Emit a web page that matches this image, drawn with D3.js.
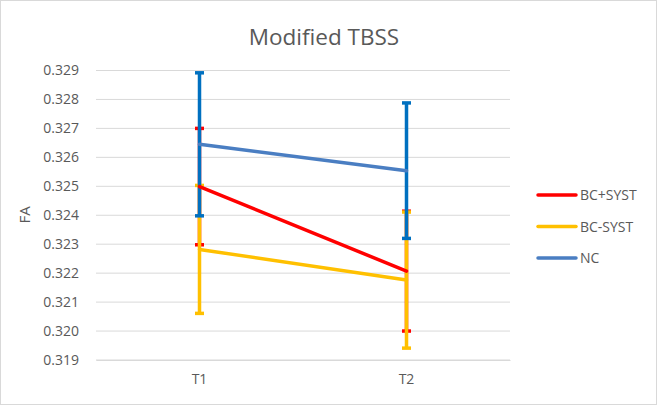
<!DOCTYPE html>
<html><head><meta charset="utf-8">
<script src="https://cdn.jsdelivr.net/npm/d3@7"></script>
<style>body{margin:0;background:#fff}svg{display:block}</style>
</head><body>
<svg id="c" width="657" height="405"></svg>
<script>
const categories = ["T1", "T2"];
const seriesNames = ["BC+SYST", "BC-SYST", "NC"];
const bcPlus = [0.32499, 0.32207];
const bcPlusErr = [0.00201, 0.00207];
const bcMinus = [0.32282, 0.32176];
const bcMinusErr = [0.00221, 0.00235];
const nc = [0.32645, 0.32554];
const ncErr = [0.00247, 0.00234];
const yTicks = [0.319, 0.320, 0.321, 0.322, 0.323, 0.324, 0.325, 0.326, 0.327, 0.328, 0.329];
const colors = ["#FF0000", "#FFC000", "#4A7EC2"];
const errColors = ["#FF0000", "#FFC000", "#0070C0"];

const series = [
  {name: seriesNames[0], vals: bcPlus, err: bcPlusErr},
  {name: seriesNames[1], vals: bcMinus, err: bcMinusErr},
  {name: seriesNames[2], vals: nc, err: ncErr}
];

const svg = d3.select("#c");
const font = "Open Sans, Liberation Sans, sans-serif";
svg.append("rect").attr("x",0.5).attr("y",0.5).attr("width",656).attr("height",404)
  .attr("fill","#fff").attr("stroke","#d9d9d9");

const x = d3.scaleBand().domain(categories).range([96, 510]);
const y = d3.scaleLinear().domain([0.319, 0.329]).range([360, 70.5]);

svg.append("g").selectAll("line").data(yTicks).join("line")
  .attr("x1",96).attr("x2",510).attr("y1",d=>y(d)).attr("y2",d=>y(d))
  .attr("stroke","#d9d9d9").attr("stroke-width",1);

const ya = svg.append("g").attr("transform","translate(96,0)")
  .call(d3.axisLeft(y).tickValues(yTicks).tickFormat(d3.format(".3f")).tickSize(0).tickPadding(17));
ya.select(".domain").remove();
ya.selectAll("text").attr("font-family",font).attr("font-size",14).attr("fill","#595959");

const xa = svg.append("g").attr("transform","translate(0,360)")
  .call(d3.axisBottom(x).tickSize(0).tickPadding(14));
xa.select(".domain").attr("stroke","#d9d9d9");
xa.selectAll("text").attr("font-family",font).attr("font-size",14).attr("fill","#595959");

const cx = c => x(c) + x.bandwidth()/2;

series.forEach((s,i)=>{
  const g = svg.append("g");
  categories.forEach((c,j)=>{
    const lo = s.vals[j]-s.err[j], hi = s.vals[j]+s.err[j];
    g.append("line").attr("x1",cx(c)).attr("x2",cx(c)).attr("y1",y(lo)).attr("y2",y(hi))
      .attr("stroke",errColors[i]).attr("stroke-width",3.5);
    [lo,hi].forEach(v=>{
      g.append("line").attr("x1",cx(c)-4.5).attr("x2",cx(c)+4.5).attr("y1",y(v)).attr("y2",y(v))
        .attr("stroke",errColors[i]).attr("stroke-width",3.5);
    });
  });
});

const line = d3.line().x((d,j)=>cx(categories[j])).y(d=>y(d));
series.forEach((s,i)=>{
  svg.append("path").attr("d",line(s.vals)).attr("fill","none")
    .attr("stroke",colors[i]).attr("stroke-width",3.5).attr("stroke-linecap","round");
});

svg.append("text").attr("x",324).attr("y",45).attr("text-anchor","middle")
  .attr("font-family",font).attr("font-size",22.5).attr("fill","#595959").text("Modified TBSS");

svg.append("text").attr("transform","translate(30,215) rotate(-90)").attr("text-anchor","middle")
  .attr("font-family",font).attr("font-size",15).attr("fill","#595959").text("FA");

const lg = svg.append("g");
series.forEach((s,i)=>{
  const yy = 195 + i*31.5;
  lg.append("line").attr("x1",538).attr("x2",576).attr("y1",yy).attr("y2",yy)
    .attr("stroke",colors[i]).attr("stroke-width",3.5).attr("stroke-linecap","round");
  lg.append("text").attr("x",580).attr("y",yy+5).attr("font-family",font).attr("font-size",14)
    .attr("fill","#595959").text(s.name);
});
</script>
</body></html>
